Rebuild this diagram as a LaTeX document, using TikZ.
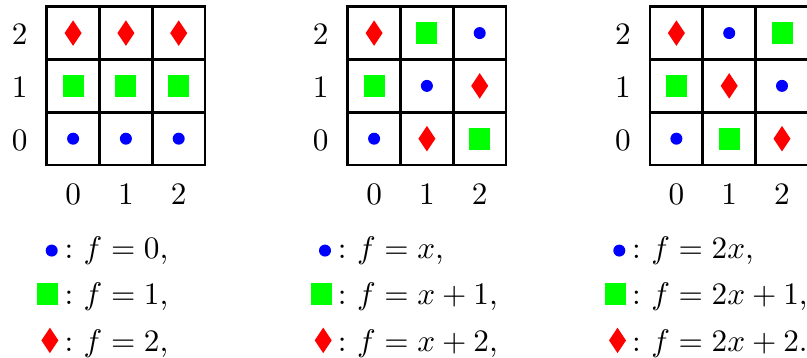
\documentclass[tikz,border=0pt]{standalone}
\usetikzlibrary{shapes.geometric}
\newdimen\px \px=0.32pt
\tikzset{
  gridline/.style={line width=2.7\px},
  sym0/.style={circle, fill=blue, inner sep=0pt, minimum size=12\px},
  sym1/.style={rectangle, fill=green, inner sep=0pt, minimum width=21\px, minimum height=22\px},
  sym2/.style={diamond, fill=red, inner sep=0pt, minimum width=17.5\px, minimum height=26\px},
  numlbl/.style={inner sep=0pt},
  legtxt/.style={inner sep=0pt, anchor=base west},
}
\begin{document}
\begin{tikzpicture}[x=0.32pt, y=-0.32pt]
\useasboundingbox (0,0) rectangle (807,358);
\foreach \m/\gx in {0/46.7, 1/347.7, 2/650}{
  \draw[gridline] (\gx,6.7) rectangle (\gx+158.4,165.1);
  \foreach \i in {1,2}{
    \draw[gridline] (\gx+\i*52.8,6.7) -- (\gx+\i*52.8,165.1);
    \draw[gridline] (\gx,6.7+\i*52.8) -- (\gx+158.4,6.7+\i*52.8);
  }
  \foreach \k in {0,1,2}{
    \node[numlbl] (r\m-\k) at (\gx-27, 140.2-\k*52.8) {\k};
    \node[numlbl] (c\m-\k) at (\gx+26.4+\k*52.8, 194) {\k};
    \foreach \j in {0,1,2}{
      \pgfmathtruncatemacro\c{mod(\j-\m*\k+6,3)}
      \node[sym\c] (s\m-\k-\j) at (\gx+26.4+\k*52.8, 138.7-\j*52.8) {};
    }
  }
}
\foreach \m/\cx in {0/66.7, 1/340, 2/634.3}{
  \node[sym0] (l\m-0) at (\cx-15, 258.2-7.6) {};
  \node[sym1] (l\m-1) at (\cx-19, 304.9-11.3) {};
  \node[sym2] (l\m-2) at (\cx-16.8, 351.6-11.2) {};
}
\node[legtxt] (t0-0) at (64,258.2) {:\ $f=0$,};
\node[legtxt] (t0-1) at (64,304.9) {:\ $f=1$,};
\node[legtxt] (t0-2) at (64,351.6) {:\ $f=2$,};
\node[legtxt] (t1-0) at (337.3,258.2) {:\ $f=x$,};
\node[legtxt] (t1-1) at (337.3,304.9) {:\ $f=x+1$,};
\node[legtxt] (t1-2) at (337.3,351.6) {:\ $f=x+2$,};
\node[legtxt] (t2-0) at (631.6,258.2) {:\ $f=2x$,};
\node[legtxt] (t2-1) at (631.6,304.9) {:\ $f=2x+1$,};
\node[legtxt] (t2-2) at (631.6,351.6) {:\ $f=2x+2$.};
\end{tikzpicture}
\end{document}
